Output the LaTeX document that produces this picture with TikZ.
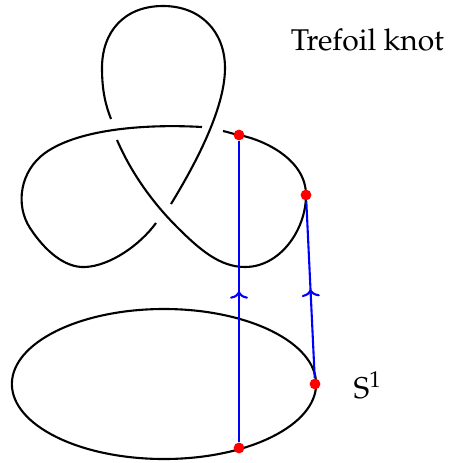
\documentclass[tikz,border=0pt]{standalone}
\usepackage[T1]{fontenc}
\usepackage{mathpazo}
\usetikzlibrary{arrows.meta,decorations.markings,positioning}

\tikzset{
  strand/.style={line width=0.7pt},
  spot/.style={circle, fill=red, inner sep=0pt, minimum size=3.6pt},
  lift/.style={blue, line width=0.7pt, postaction={decorate}, decoration={markings, mark=at position 0.5 with {\arrow{To[length=2.4pt,width=6pt]}}}}
}

\begin{document}
\begin{tikzpicture}[x=0.3333pt, y=-0.3333pt]
        \useasboundingbox (0,0) rectangle (452,463);

        \draw[strand] (171,204) .. controls (193,168) and (225,110) .. (225,68)
          .. controls (225,32) and (201,6) .. (163,6)
          .. controls (124,6) and (102,32) .. (102,68)
          .. controls (102,92) and (106,106) .. (111,119);
        \draw[strand] (202,127) .. controls (150,124) and (80,128) .. (45,153)
          .. controls (20,171) and (15,205) .. (30,228)
          .. controls (45,251) and (65,268) .. (85,267)
          .. controls (110,266) and (140,245) .. (156,223);
        \draw[strand] (117,140) .. controls (130,170) and (150,200) .. (177,227)
          .. controls (200,250) and (220,267) .. (245,267)
          .. controls (280,267) and (306,230) .. (306,195)
          .. controls (306,160) and (265,140) .. (239,135)
          .. controls (233,134) and (228,132) .. (223,131);
        \draw[line width=0.7pt] (164,384) ellipse [x radius=50.7pt, y radius=25pt];

        \node[spot] (knotA) at (239,135) {};
        \node[spot] (knotB) at (306,195) {};
        \node[spot] (circA) at (239,448) {};
        \node[spot] (circB) at (315,384) {};

        \draw[lift] (circA) -- (knotA);
        \draw[lift] (circB) -- (knotB);

        \node[anchor=base, inner sep=0pt] (title) at (367.5,50) {Trefoil knot};
        \node[anchor=base west, inner sep=0pt] (circle) at (353,398) {S$^1$};
      \end{tikzpicture}
\end{document}
